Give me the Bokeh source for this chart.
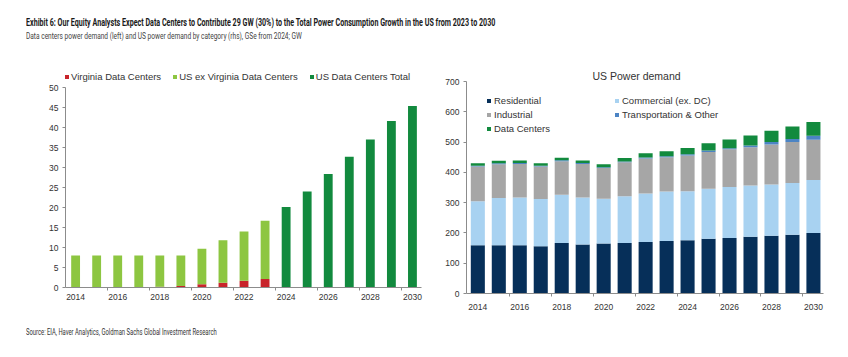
from bokeh.plotting import figure
from bokeh.layouts import column, row
from bokeh.models import Div, Range1d, FixedTicker, Legend, LegendItem, ColumnDataSource, Spacer
from bokeh.embed import file_html
from bokeh.resources import INLINE

# ---------------- data ----------------
TITLE = "Exhibit 6: Our Equity Analysts Expect Data Centers to Contribute 29 GW (30%) to the Total Power Consumption Growth in the US from 2023 to 2030"
SUBTITLE = "Data centers power demand (left) and US power demand by category (rhs), GSe from 2024; GW"
SOURCE = "Source: EIA, Haver Analytics, Goldman Sachs Global Investment Research"

hist_years = [2014, 2015, 2016, 2017, 2018, 2019, 2020, 2021, 2022, 2023]
virginia_dc = [0.1, 0.1, 0.1, 0.1, 0.2, 0.4, 0.8, 1.2, 1.7, 2.1]
us_ex_virginia_dc = [7.9, 7.9, 7.9, 7.9, 7.8, 7.6, 8.9, 10.6, 12.3, 14.6]
fcst_years = [2024, 2025, 2026, 2027, 2028, 2029, 2030]
us_dc_total = [20.1, 24.0, 28.4, 32.7, 37.0, 41.6, 45.4]

years = list(range(2014, 2031))
residential = [159, 159, 159, 156, 167, 162, 165, 167, 170, 173, 176, 181, 183, 187, 191, 194, 200]
commercial = [146, 156, 158, 156, 159, 155, 148, 154, 160, 164, 162, 165, 169, 170, 169, 171, 175]
industrial = [114, 112, 111, 107, 111, 111, 101, 112, 116, 113, 118, 121, 124, 126, 132, 135, 133]
transport = [3, 3, 3, 3, 3, 3, 3, 3, 3, 3, 4, 5, 4, 6, 8, 10, 13]
data_centers = [8.0, 8.0, 8.0, 8.0, 8.0, 8.0, 9.7, 11.8, 14.0, 16.7, 20.1, 24.0, 28.4, 32.7, 37.0, 41.6, 45.4]

x_tick_labels = [2014, 2016, 2018, 2020, 2022, 2024, 2026, 2028, 2030]
x_boundaries = [2015.5, 2017.5, 2019.5, 2021.5, 2023.5, 2025.5, 2027.5, 2029.5]
left_y_ticks = [0, 5, 10, 15, 20, 25, 30, 35, 40, 45, 50]
right_y_ticks = [0, 100, 200, 300, 400, 500, 600, 700]

# ---------------- styles ----------------
FONT = "Liberation Sans"
RED = "#C8242B"
LGREEN = "#8DC641"
DGREEN = "#128A3E"
NAVY = "#062F59"
LBLUE = "#A8D2F1"
GRAY = "#A6A6A6"
MBLUE = "#4C84C4"
AXIS_COLOR = "#8C8C8C"
TXT = "#333333"


def style_axes(p, yticks, xstandoff):
    p.xgrid.grid_line_color = None
    p.ygrid.grid_line_color = None
    p.outline_line_color = None
    p.background_fill_color = "white"
    p.border_fill_color = "white"
    for ax in (p.xaxis[0], p.yaxis[0]):
        ax.axis_line_color = AXIS_COLOR
        ax.major_tick_line_color = AXIS_COLOR
        ax.minor_tick_line_color = AXIS_COLOR
        ax.major_label_text_font = FONT
        ax.major_label_text_font_size = "8.5px"
        ax.major_label_text_color = TXT
        ax.major_tick_in = 0
        ax.minor_tick_in = 0
    p.xaxis[0].ticker = FixedTicker(ticks=x_tick_labels, minor_ticks=x_boundaries)
    p.xaxis[0].major_tick_out = 0
    p.xaxis[0].minor_tick_out = 3
    p.xaxis[0].major_label_standoff = xstandoff
    p.yaxis[0].ticker = FixedTicker(ticks=yticks, minor_ticks=[])
    p.yaxis[0].major_tick_out = 3
    p.yaxis[0].minor_tick_out = 0
    p.yaxis[0].major_label_standoff = 4
    p.yaxis[0].bounds = (yticks[0], yticks[-1])


# ---------------- left chart ----------------
# frame: 0..55 so the legend sits inside the frame above the 50 line
p1 = figure(width=430, height=275, output_backend="svg", toolbar_location=None,
            x_range=Range1d(2013.52, 2030.43), y_range=Range1d(0, 55),
            min_border_left=65, min_border_right=9, min_border_top=25, min_border_bottom=30)
style_axes(p1, left_y_ticks, 3)

src_h = ColumnDataSource(dict(year=hist_years, virginia=virginia_dc, exva=us_ex_virginia_dc))
rs = p1.vbar_stack(["virginia", "exva"], x="year", width=0.42, source=src_h,
                   color=[RED, LGREEN], line_color=None)
r_tot = p1.vbar(x=fcst_years, top=us_dc_total, width=0.42, color=DGREEN, line_color=None)

leg1 = Legend(items=[LegendItem(label="Virginia Data Centers", renderers=[rs[0]]),
                     LegendItem(label="US ex Virginia Data Centers", renderers=[rs[1]]),
                     LegendItem(label="US Data Centers Total", renderers=[r_tot])],
              orientation="horizontal", location=(-1, 205),
              glyph_width=5, glyph_height=5, label_standoff=2, spacing=11,
              label_text_font=FONT, label_text_font_size="9.5px", label_text_color=TXT,
              label_height=10, padding=0, margin=0, border_line_color=None,
              background_fill_alpha=0)
p1.add_layout(leg1, "center")

# ---------------- right chart ----------------
p2 = figure(width=418, height=269, output_backend="svg", toolbar_location=None,
            x_range=Range1d(2013.46, 2030.48), y_range=Range1d(0, 700),
            min_border_left=36, min_border_right=25, min_border_top=33, min_border_bottom=24,
            title="US Power demand")
style_axes(p2, right_y_ticks, 7)
p2.title.align = "left"
p2.title.offset = 126
p2.title.text_font = FONT
p2.title.text_font_size = "10.5px"
p2.title.text_font_style = "normal"
p2.title.text_color = TXT
p2.title.standoff = 0

src_r = ColumnDataSource(dict(year=years, res=residential, com=commercial, ind=industrial,
                              tra=transport, dc=data_centers))
rr = p2.vbar_stack(["res", "com", "ind", "tra", "dc"], x="year", width=0.67, source=src_r,
                   color=[NAVY, LBLUE, GRAY, MBLUE, DGREEN], line_color=None)

leg2 = Legend(items=[LegendItem(label="Residential", renderers=[rr[0]]),
                     LegendItem(label="Commercial (ex. DC)", renderers=[rr[1]]),
                     LegendItem(label="Industrial", renderers=[rr[2]]),
                     LegendItem(label="Transportation & Other", renderers=[rr[3]]),
                     LegendItem(label="Data Centers", renderers=[rr[4]])],
              orientation="horizontal", ncols=2, location=(20, 159),
              glyph_width=5, glyph_height=5, label_standoff=3, spacing=3,
              label_width=117, label_height=10,
              label_text_font=FONT, label_text_font_size="9.5px", label_text_color=TXT,
              padding=0, margin=0, border_line_color=None, background_fill_alpha=0)
p2.add_layout(leg2, "center")

# ---------------- text blocks ----------------
head_html = (
    '<div style="position:relative;width:848px;height:42px;font-family:Roboto;">'
    '<div style="position:absolute;left:26px;top:15px;font-size:10.5px;font-weight:bold;color:#1a1a1a;'
    'white-space:nowrap;transform:scaleX(0.68);transform-origin:0 0;">' + TITLE + '</div>'
    '<div style="position:absolute;left:26px;top:29px;font-size:9.5px;color:#444;'
    'white-space:nowrap;transform:scaleX(0.69);transform-origin:0 0;">' + SUBTITLE + '</div>'
    '</div>')
head = Div(text=head_html, width=848, height=42, margin=0)

foot_html = (
    '<div style="position:relative;width:848px;height:40px;font-family:Roboto;">'
    '<div style="position:absolute;left:26px;top:9px;font-size:9px;color:#333;'
    'white-space:nowrap;transform:scaleX(0.65);transform-origin:0 0;">' + SOURCE + '</div>'
    '</div>')
foot = Div(text=foot_html, width=848, height=40, margin=0)

right_col = column(Spacer(width=418, height=6, margin=0), p2, spacing=0)
layout = column(head, row(p1, right_col, spacing=0), foot, spacing=0)

open("out.html", "w").write(file_html(layout, INLINE))
